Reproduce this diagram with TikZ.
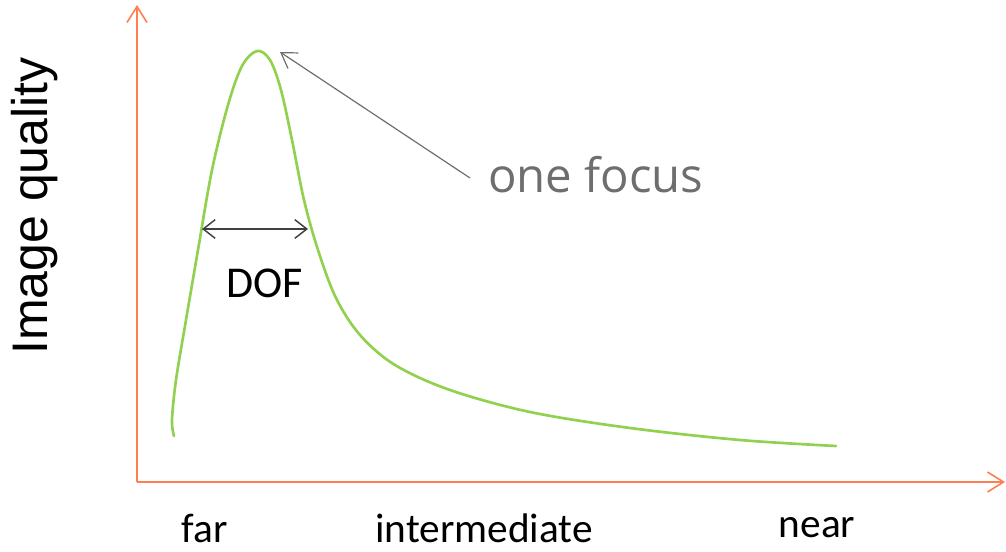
\documentclass[tikz,border=0pt]{standalone}
\usepackage{fontspec}
\setmainfont{Carlito}
\newfontfamily\labelsans{Liberation Sans}
\newfontfamily\notesans{Open Sans}
\usetikzlibrary{arrows.meta}
\definecolor{axiscol}{HTML}{FF7F50}
\definecolor{curvecol}{HTML}{92D050}
\definecolor{notecol}{HTML}{6E6E6E}
\definecolor{dofcol}{HTML}{404040}
\tikzset{
  axisline/.style={draw=axiscol, line width=1.5pt, -{Straight Barb[length=12pt,width=15pt,line width=1.2pt]}},
  tick/.style={font=\fontsize{31pt}{36pt}\selectfont, text=black, inner sep=0pt},
  dofarrow/.style={draw=dofcol, line width=1.4pt, {Straight Barb[length=9pt,width=14pt,line width=1.1pt]}-{Straight Barb[length=9pt,width=14pt,line width=1.1pt]}},
  pointer/.style={draw=notecol, line width=0.9pt, -{Straight Barb[length=11pt,width=14pt,line width=0.9pt]}}
}
\begin{document}
\begin{tikzpicture}[x=0.75pt, y=-0.75pt]
\useasboundingbox (0,0) rectangle (1006,552);
% axes
\coordinate (origin) at (137,482);
\coordinate (ytop) at (137,5);
\coordinate (xend) at (1005,482);
\draw[axisline] (origin) -- (ytop);
\draw[axisline] (origin) -- (xend);
% quality curve
\draw[curvecol, line width=2pt, line cap=round] plot[smooth, tension=0.55] coordinates {
  (174,436) (172,420) (176,380) (186,320) (198,250) (212,170) (228,105) (242,66) (257,51)
  (270,60) (281,90) (292,140) (304,200) (318,250) (336,298) (360,335) (395,365)
  (450,390) (530,412) (630,428) (740,440) (836,446)};
% depth of field
\coordinate (dofL) at (202,229);
\coordinate (dofR) at (308,229);
\draw[dofarrow] (dofL) -- (dofR);
\node[font=\fontsize{33pt}{38pt}\selectfont, inner sep=0pt] (dof) at (265,283) {DOF};
% annotation
\node[font=\notesans\fontsize{35.5pt}{40pt}\selectfont, text=notecol, inner sep=0pt, anchor=west] (note) at (488,175) {one focus};
\coordinate (peak) at (280,52);
\draw[pointer] (470,178) -- (peak);
% axis labels
\node[tick] (far) at (205,528) {far};
\node[tick] (mid) at (484,528) {intermediate};
\node[tick] (near) at (817,528) {near};
\node[font=\labelsans\fontsize{37.5pt}{42pt}\selectfont, rotate=90, inner sep=0pt] (ylab) at (35,206) {Image quality};
\end{tikzpicture}
\end{document}
